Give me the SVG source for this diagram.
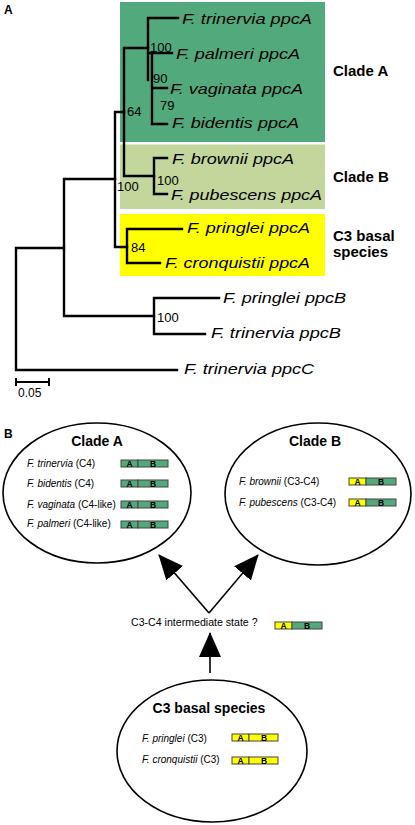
<svg xmlns="http://www.w3.org/2000/svg" width="415" height="825" viewBox="0 0 415 825">
<defs>
<style>
.br{stroke:#000;stroke-width:2.4;fill:none;stroke-linecap:square}
.lf{font-family:"Liberation Sans",Arial,sans-serif;font-style:italic;font-size:15.5px;fill:#000}
.bs{font-family:"Liberation Sans",Arial,sans-serif;font-size:13px;fill:#000}
.cl{font-family:"Liberation Sans",Arial,sans-serif;font-weight:bold;font-size:15px;fill:#000}
.pl{font-family:"Liberation Sans",Arial,sans-serif;font-weight:bold;font-size:12px;fill:#000}
.el{fill:#fff;stroke:#000;stroke-width:1.6}
.et{font-family:"Liberation Sans",Arial,sans-serif;font-weight:bold;font-size:14px;fill:#000;text-anchor:middle}
.sp{font-family:"Liberation Sans",Arial,sans-serif;font-size:10px;fill:#000}
.sp tspan.i{font-style:italic}
.ya{fill:#ffff00;stroke:#444;stroke-width:1}
.gb{fill:#52a97c;stroke:#444;stroke-width:1}
.bl{font-family:"Liberation Sans",Arial,sans-serif;font-weight:bold;font-size:8.5px;fill:#000;text-anchor:middle}
.ar{stroke:#000;stroke-width:1.6;fill:none}
</style>
<marker id="ah" markerUnits="userSpaceOnUse" markerWidth="26" markerHeight="24" refX="24" refY="11" orient="auto">
<path d="M0,0 L25,11 L0,22 z" fill="#000"/>
</marker>
<g id="barG">
<rect class="gb" x="0" y="0" width="17" height="7"/>
<rect class="gb" x="17" y="0" width="30" height="7"/>
<text class="bl" x="8.5" y="6.6">A</text>
<text class="bl" x="32" y="6.6">B</text>
</g>
<g id="barY">
<rect class="ya" x="0" y="0" width="17" height="7"/>
<rect class="gb" x="17" y="0" width="30" height="7"/>
<text class="bl" x="8.5" y="6.6">A</text>
<text class="bl" x="32" y="6.6">B</text>
</g>
<g id="barYY">
<rect class="ya" x="0" y="0" width="17" height="7"/>
<rect class="ya" x="17" y="0" width="29" height="7"/>
<text class="bl" x="8.5" y="6.6">A</text>
<text class="bl" x="32" y="6.6">B</text>
</g>
</defs>
<rect width="415" height="825" fill="#fff"/>

<!-- Panel A -->
<text class="pl" x="4" y="14">A</text>
<g id="cladeA-box"><rect x="120" y="2" width="205" height="140" fill="#52a97c"/><text class="cl" x="333" y="76">Clade A</text></g>
<g id="cladeB-box"><rect x="120" y="144.5" width="205" height="64.5" fill="#c3d69b"/><text class="cl" x="333" y="182">Clade B</text></g>
<g id="c3-box"><rect x="120" y="214" width="205" height="62" fill="#ffff00"/><text class="cl" x="333" y="241">C3 basal</text><text class="cl" x="333" y="257">species</text></g>

<g id="tree-connectors">
<path class="br" d="M16,248 V370 M16,248 H64 M16,370 H177"/>
<path class="br" d="M64,179 V316 M64,179 H115 M64,316 H154"/>
<path class="br" d="M154,298 V334 M154,298 H219 M154,334 H205"/>
<path class="br" d="M115,112 V247 M115,112 H124 M115,247 H127"/>
<path class="br" d="M127,229 V263 M127,229 H182 M127,263 H160"/>
<path class="br" d="M124,48 V176 M124,48 H148 M124,176 H154"/>
<path class="br" d="M154,158 V194 M154,158 H167 M154,194 H167"/>
<path class="br" d="M148,18 V80 M148,18 H178 M148,53 H172"/>
<path class="br" d="M152,53 V124 M152,88 H167 M152,124 H167"/>
<path class="br" d="M16,382 H49 M16,379 V385 M49,379 V385" style="stroke-width:2"/>
</g>

<g id="leaves">
<text class="lf" x="182" y="24" textLength="130" lengthAdjust="spacingAndGlyphs">F. trinervia ppcA</text>
<text class="lf" x="176" y="59" textLength="124" lengthAdjust="spacingAndGlyphs">F. palmeri ppcA</text>
<text class="lf" x="170" y="94" textLength="133" lengthAdjust="spacingAndGlyphs">F. vaginata ppcA</text>
<text class="lf" x="172" y="128" textLength="127" lengthAdjust="spacingAndGlyphs">F. bidentis ppcA</text>
<text class="lf" x="172" y="164" textLength="122" lengthAdjust="spacingAndGlyphs">F. brownii ppcA</text>
<text class="lf" x="171" y="199.5" textLength="151" lengthAdjust="spacingAndGlyphs">F. pubescens ppcA</text>
<text class="lf" x="187" y="233" textLength="123" lengthAdjust="spacingAndGlyphs">F. pringlei ppcA</text>
<text class="lf" x="165" y="268" textLength="145" lengthAdjust="spacingAndGlyphs">F. cronquistii ppcA</text>
<text class="lf" x="223" y="303" textLength="123" lengthAdjust="spacingAndGlyphs">F. pringlei ppcB</text>
<text class="lf" x="211" y="338" textLength="130" lengthAdjust="spacingAndGlyphs">F. trinervia ppcB</text>
<text class="lf" x="184" y="374" textLength="130" lengthAdjust="spacingAndGlyphs">F. trinervia ppcC</text>
</g>

<g id="bootstraps">
<text class="bs" x="150" y="52">100</text>
<text class="bs" x="153" y="83">90</text>
<text class="bs" x="160" y="110">79</text>
<text class="bs" x="127" y="116">64</text>
<text class="bs" x="157" y="184.5">100</text>
<text class="bs" x="117" y="191">100</text>
<text class="bs" x="131" y="252">84</text>
<text class="bs" x="157" y="322">100</text>
<text class="bs" x="18" y="397" style="font-size:12px">0.05</text>
</g>

<!-- Panel B -->
<text class="pl" x="4" y="438">B</text>

<g id="arrows">
<line class="ar" x1="209" y1="613" x2="159" y2="555" marker-end="url(#ah)"/>
<line class="ar" x1="209" y1="613" x2="258" y2="555" marker-end="url(#ah)"/>
<line class="ar" x1="210" y1="673" x2="210" y2="633" marker-end="url(#ah)"/>
</g>

<g id="node-cladeA">
<ellipse class="el" cx="97" cy="493" rx="94" ry="70"/>
<text class="et" x="97" y="446">Clade A</text>
<text class="sp" x="27" y="467"><tspan class="i">F. trinervia</tspan> (C4)</text>
<text class="sp" x="27" y="487"><tspan class="i">F. bidentis</tspan> (C4)</text>
<text class="sp" x="27" y="508"><tspan class="i">F. vaginata</tspan> (C4-like)</text>
<text class="sp" x="27" y="527"><tspan class="i">F. palmeri</tspan> (C4-like)</text>
<use href="#barG" x="121" y="460"/>
<use href="#barG" x="121" y="480"/>
<use href="#barG" x="121" y="501"/>
<use href="#barG" x="121" y="521"/>
</g>

<g id="node-cladeB">
<ellipse class="el" cx="318" cy="494" rx="93" ry="71"/>
<text class="et" x="315" y="446">Clade B</text>
<text class="sp" x="239" y="485"><tspan class="i">F. brownii</tspan> (C3-C4)</text>
<text class="sp" x="239" y="506"><tspan class="i">F. pubescens</tspan> (C3-C4)</text>
<use href="#barY" x="349" y="478"/>
<use href="#barY" x="349" y="499"/>
</g>

<g id="node-intermediate">
<text class="sp" x="131" y="626" style="font-size:10.6px">C3-C4 intermediate state ?</text>
<use href="#barY" x="275" y="622"/>
</g>

<g id="node-c3">
<ellipse class="el" cx="212" cy="751" rx="95" ry="71"/>
<text class="et" x="209" y="713">C3 basal species</text>
<text class="sp" x="142" y="742"><tspan class="i">F. pringlei</tspan> (C3)</text>
<text class="sp" x="142" y="763"><tspan class="i">F. cronquistii</tspan> (C3)</text>
<use href="#barYY" x="232" y="734"/>
<use href="#barYY" x="232" y="757"/>
</g>
</svg>
